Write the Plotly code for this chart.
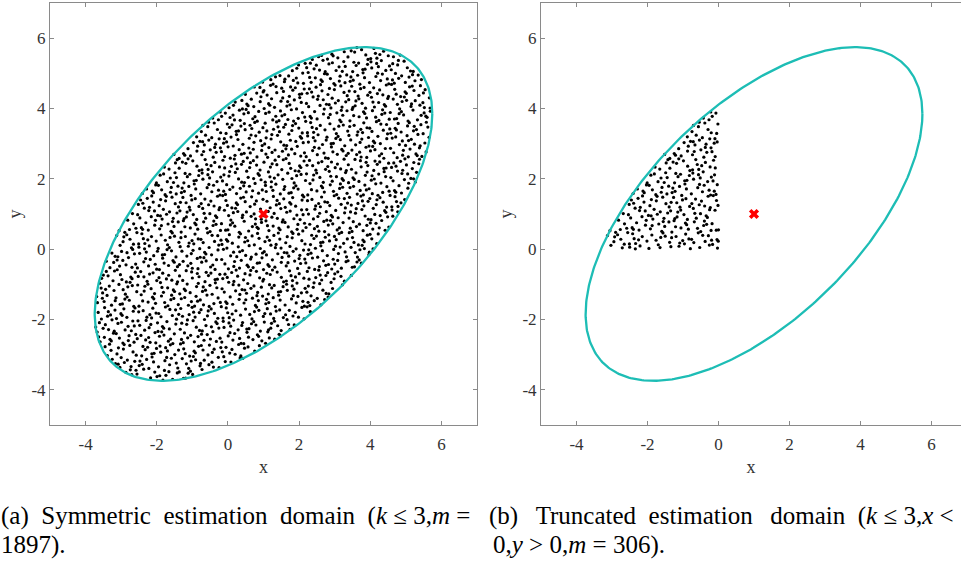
import numpy as np
import plotly.graph_objects as go

# ---- data ----
center = [1.0, 1.0]                      # estimate (red cross)
cov = [[2.5, 1.5], [1.5, 2.5]]           # covariance defining the k-ellipse
k_max = 3.0
m_full = 1897                            # number of sample points, panel (a)
x_ticks = [-4, -2, 0, 2, 4, 6]
y_ticks = [-4, -2, 0, 2, 4, 6]
tick_labels = ["-4", "-2", "0", "2", "4", "6"]
captions_a = ["(a)  Symmetric  estimation  domain  (<i>k</i> ≤ 3,<i>m</i> =", "1897)."]
captions_b = ["(b)  &#8201;Truncated  estimation  &#8201;domain  (<i>k</i> ≤ 3,<i>x</i> <",
              "0,<i>y</i> > 0,<i>m</i> = 306)."]

# ---- derived geometry ----
C = np.array(cov)
Ci = np.linalg.inv(C)
L = np.linalg.cholesky(C)
t = np.linspace(0, 2 * np.pi, 400)
ell = np.array(center)[:, None] + k_max * L @ np.vstack([np.cos(t), np.sin(t)])


def halton(i, b):
    f, r = 1.0, 0.0
    while i > 0:
        f /= b
        r += f * (i % b)
        i //= b
    return r


half = k_max * np.sqrt(C[0, 0])
pts = []
i = 1
while len(pts) < m_full:
    px = center[0] - half + 2 * half * halton(i, 2)
    py = center[1] - half + 2 * half * halton(i, 3)
    d = np.array([px - center[0], py - center[1]])
    if d @ Ci @ d <= k_max ** 2:
        pts.append((px, py))
    i += 1
pts = np.array(pts)
sub = pts[(pts[:, 0] < 0) & (pts[:, 1] > 0)]

TEAL = "#1DBDB5"
FONT = "Liberation Serif, Times New Roman, serif"

fig = go.Figure()
for xa, ya, P in [("x", "y", pts), ("x2", "y2", sub)]:
    fig.add_trace(go.Scatter(x=P[:, 0], y=P[:, 1], mode="markers",
                             marker=dict(size=3.2, color="black"),
                             xaxis=xa, yaxis=ya, showlegend=False))
    fig.add_trace(go.Scatter(x=ell[0], y=ell[1], mode="lines",
                             line=dict(color=TEAL, width=2.3),
                             xaxis=xa, yaxis=ya, showlegend=False))
    fig.add_trace(go.Scatter(x=[center[0]], y=[center[1]], mode="markers",
                             marker=dict(symbol="x", size=9, color="red",
                                         line=dict(width=0)),
                             xaxis=xa, yaxis=ya, showlegend=False))

axcommon = dict(showgrid=False, zeroline=False, showline=True, linecolor="#8a8a8a",
                linewidth=1, ticks="inside", ticklen=4, tickcolor="#8a8a8a",
                tickfont=dict(family=FONT, size=17, color="#333"),
                title_font=dict(family=FONT, size=18, color="#333"))

ydom = [139 / 564, 561 / 564]
fig.update_layout(
    width=961, height=564, margin=dict(l=0, r=0, t=0, b=0),
    plot_bgcolor="white", paper_bgcolor="white",
    xaxis=dict(domain=[50 / 961, 477 / 961], range=[-5, 7], tickvals=x_ticks,
               ticktext=tick_labels, mirror="ticks", anchor="y", ticklabelstandoff=4,
               title=dict(text="x", standoff=6), **axcommon),
    yaxis=dict(domain=ydom, range=[-5, 7], tickvals=y_ticks, ticktext=tick_labels,
               mirror="ticks", anchor="x", title=dict(text="y", standoff=5), **axcommon),
    xaxis2=dict(domain=[541 / 961, 1.0], range=[-5, -5 + 420 / 35.5], tickvals=x_ticks,
                ticktext=tick_labels, mirror="ticks", anchor="y2", ticklabelstandoff=4,
                title=dict(text="x", standoff=6), **axcommon),
    yaxis2=dict(domain=ydom, range=[-5, 7], tickvals=y_ticks, ticktext=tick_labels,
                mirror=False, anchor="x2", title=dict(text="y", standoff=5), **axcommon),
)

for j, (txt_a, txt_b) in enumerate(zip(captions_a, captions_b)):
    yy = (564 - (516 + 29 * j)) / 564
    fig.add_annotation(text=txt_a, x=-1 / 961, y=yy, xref="paper", yref="paper",
                       xanchor="left", yanchor="middle", showarrow=False,
                       font=dict(family=FONT, size=25, color="black"))
    fig.add_annotation(text=txt_b, x=(487 if j == 0 else 491) / 961, y=yy,
                       xref="paper", yref="paper", xanchor="left", yanchor="middle",
                       showarrow=False, font=dict(family=FONT, size=25, color="black"))

fig.write_html("out.html", post_script="document.body.style.margin='0px';",
               config={"displayModeBar": False})
